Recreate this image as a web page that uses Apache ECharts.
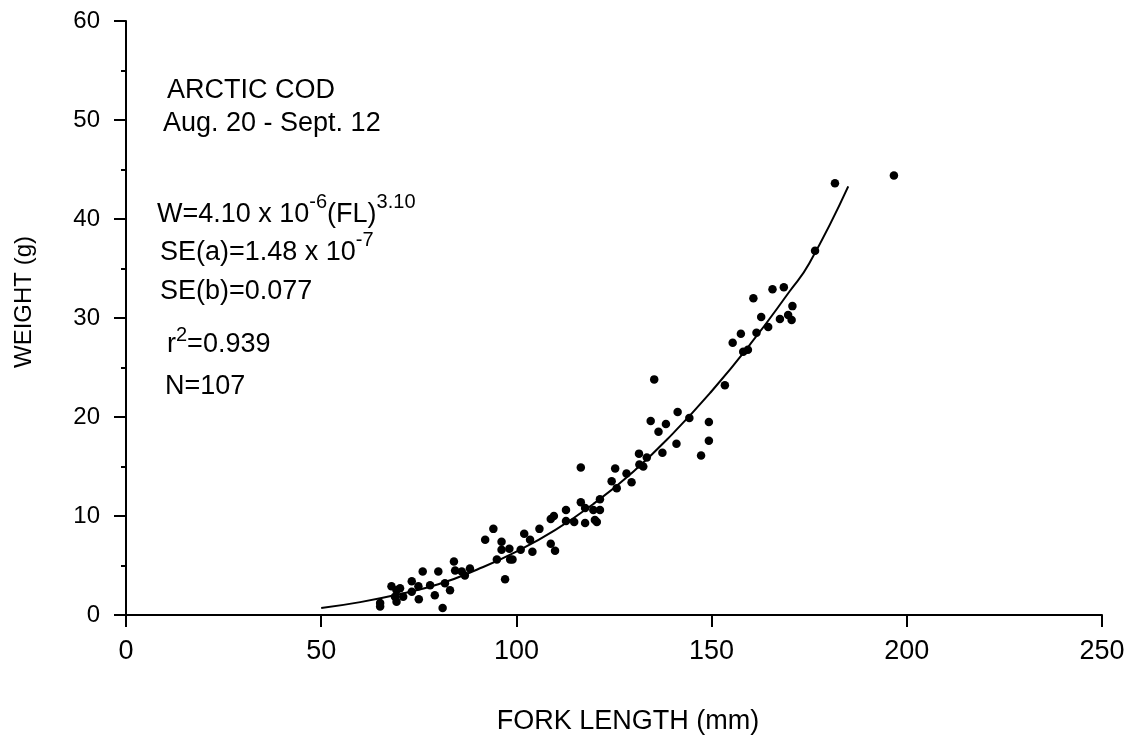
<!DOCTYPE html>
<html>
<head>
<meta charset="utf-8">
<script src="https://cdn.jsdelivr.net/npm/echarts@6/dist/echarts.min.js"></script>
<style>
  html, body { margin: 0; padding: 0; background: #fff; }
  #main { width: 1132px; height: 740px; }
</style>
</head>
<body>
<div id="main"></div>
<script>
// fork length (mm) / weight (g) of each fish
var forkLength = [
  65.1, 65.1, 68.0, 69.3, 70.2, 68.9, 69.3, 71.0, 73.2, 73.2, 74.9, 75.0, 76.0, 77.9,
  79.1, 80.0, 81.1, 81.7, 83.0, 84.0, 84.3, 86.0, 86.8, 88.1, 92.0, 94.1, 95.0,
  96.2, 96.2, 98.2, 98.4, 99.0, 97.1, 101.1, 102.0, 103.5, 104.1, 105.9, 108.8, 109.9,
  108.8, 109.6, 112.7, 112.7, 114.8, 116.5, 116.5, 117.6, 117.6, 119.7, 120.1, 120.6,
  121.4, 121.4, 124.4, 125.3, 125.7, 128.2, 129.5, 131.4, 131.5, 132.5, 133.4, 137.4, 141.0,
  134.4, 135.3, 136.4, 138.3, 141.3, 144.3, 147.3, 149.3, 149.3, 153.4, 158.1,
  155.4, 157.5, 161.5, 162.7, 164.5, 160.7, 165.6, 168.5, 167.5, 169.6, 170.5, 170.7,
  176.5, 181.6, 196.7, 159.3
];
var weight = [
  1.2, 0.85, 2.9, 2.5, 2.7, 1.85, 1.35, 1.85, 3.4, 2.35, 2.9, 1.6, 4.4, 3.0,
  2.0, 4.4, 0.7, 3.2, 2.5, 5.4, 4.5, 4.4, 4.0, 4.7, 7.6, 8.7, 5.6,
  7.4, 6.6, 6.7, 5.6, 5.6, 3.6, 6.6, 8.2, 7.6, 6.4, 8.7, 7.2, 6.5,
  9.7, 10.0, 10.6, 9.5, 9.4, 11.4, 14.9, 10.8, 9.3, 10.6, 9.6, 9.4,
  10.6, 11.7, 13.5, 14.8, 12.8, 14.3, 13.4, 16.3, 15.2, 15.0, 15.9, 16.4, 17.3,
  19.6, 23.8, 18.5, 19.3, 20.5, 19.9, 16.1, 19.5, 17.6, 23.2, 26.6,
  27.5, 28.4, 28.5, 30.1, 29.1, 32.0, 32.9, 33.1, 29.9, 30.3, 29.8, 31.2,
  36.8, 43.6, 44.4, 26.8
];

// fitted curve as drawn on the figure
var curveLength = [50, 60, 70, 80, 90, 100, 110, 120, 130, 140, 150, 160, 170, 175, 185];
var curveWeight = [0.7, 1.3, 2.1, 3.1, 4.6, 6.4, 8.6, 11.3, 14.5, 18.3, 22.6, 27.4, 32.7, 35.5, 43.3];

var xTicks = [0, 50, 100, 150, 200, 250];
var yTicks = [0, 10, 20, 30, 40, 50, 60];

var font = "'Liberation Sans', Arial, sans-serif";

var points = forkLength.map(function (x, i) { return [x, weight[i]]; });
var curve = curveLength.map(function (x, i) { return [x, curveWeight[i]]; });

// superscripts are lifted with a bottom padding
var richStyle = {
  m: { fontSize: 27, fontFamily: font, color: '#000' },
  s: { fontSize: 20, fontFamily: font, color: '#000', padding: [0, 0, 26, 0] },
  t: { fontSize: 20, fontFamily: font, color: '#000', padding: [0, 0, 20, 0] }
};

function label(left, top, text) {
  return {
    type: 'text', left: left, top: top,
    style: { text: text, rich: richStyle }
  };
}
function plain(left, top, text) {
  return {
    type: 'text', left: left, top: top,
    style: { text: text, fontSize: 27, fontFamily: font, fill: '#000' }
  };
}

var myChart = echarts.init(document.getElementById('main'));

var option = {
  backgroundColor: '#fff',
  animation: false,
  grid: { left: 126, right: 30, top: 21, bottom: 125 },
  xAxis: {
    type: 'value',
    min: xTicks[0], max: xTicks[xTicks.length - 1], interval: 50,
    name: 'FORK LENGTH (mm)',
    nameLocation: 'middle',
    nameGap: 93,
    nameTextStyle: { fontSize: 27, fontFamily: font, color: '#000', padding: [0, 0, 0, 28] },
    axisLine: { show: true, lineStyle: { color: '#000', width: 2 } },
    axisTick: { show: true, length: 12, lineStyle: { color: '#000', width: 2 } },
    axisLabel: { fontSize: 27, fontFamily: font, color: '#000', margin: 23 },
    splitLine: { show: false }
  },
  yAxis: {
    type: 'value',
    min: yTicks[0], max: yTicks[yTicks.length - 1], interval: 10,
    name: 'WEIGHT (g)',
    nameLocation: 'middle',
    nameGap: 90,
    nameTextStyle: { fontSize: 24, fontFamily: font, color: '#000', padding: [0, 0, 0, 32] },
    axisLine: { show: true, lineStyle: { color: '#000', width: 2 } },
    axisTick: { show: true, length: 12, lineStyle: { color: '#000', width: 2 } },
    minorTick: { show: true, splitNumber: 2, length: 5, lineStyle: { color: '#000', width: 2 } },
    axisLabel: { fontSize: 24, fontFamily: font, color: '#000', margin: 26 },
    splitLine: { show: false }
  },
  graphic: [
    plain(167, 77, 'ARCTIC COD'),
    plain(163, 110, 'Aug. 20 - Sept. 12'),
    label(157, 192, '{m|W=4.10 x 10}{s|-6}{m|(FL)}{s|3.10}'),
    label(160, 230, '{m|SE(a)=1.48 x 10}{s|-7}'),
    plain(160, 278, 'SE(b)=0.077'),
    label(167, 325, '{m|r}{t|2}{m|=0.939}'),
    plain(165, 373, 'N=107')
  ],
  series: [
    {
      type: 'line',
      data: curve,
      smooth: true,
      showSymbol: false,
      lineStyle: { color: '#000', width: 2 },
      z: 2
    },
    {
      type: 'scatter',
      data: points,
      symbol: 'circle',
      symbolSize: 8.5,
      itemStyle: { color: '#000', opacity: 1 },
      z: 3
    }
  ]
};

myChart.setOption(option);
</script>
</body>
</html>
